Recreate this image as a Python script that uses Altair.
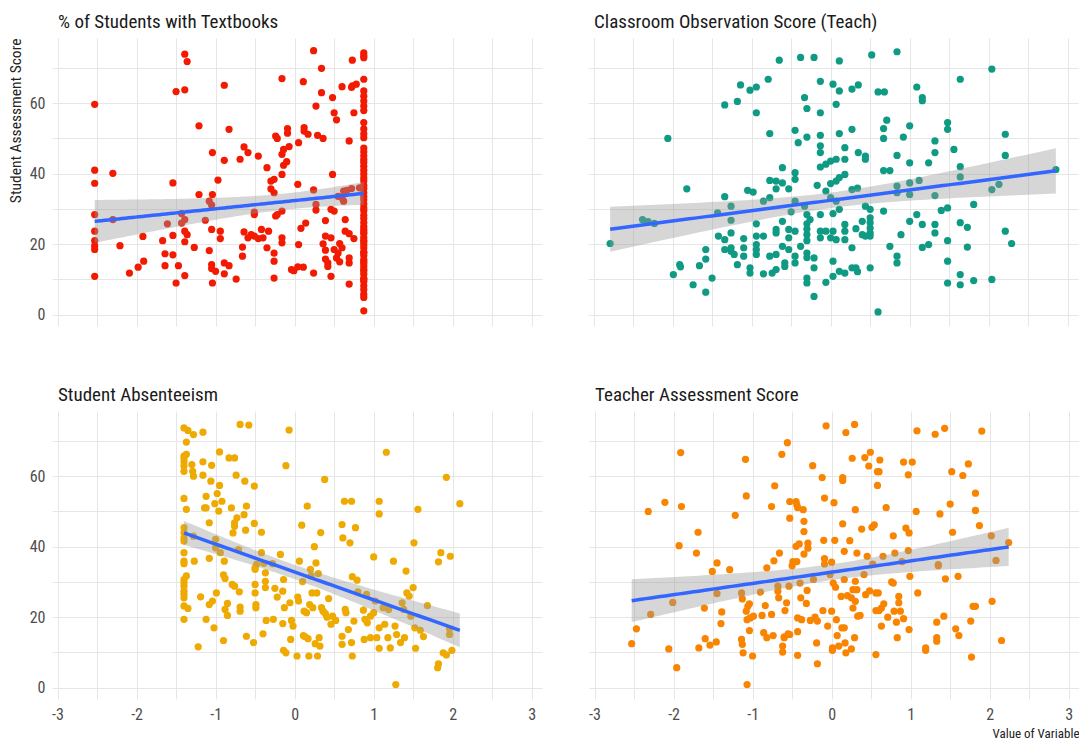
import altair as alt
import numpy as np
import pandas as pd

FONT = "Roboto Condensed, Liberation Sans Narrow, DejaVu Sans Condensed, Roboto, sans-serif"

# ---- data: (x value, [student assessment scores]) ----
textbook_points = [
    (-2.53, [59.7, 41, 37.3, 28.4, 23.7, 21, 19.5, 18.5, 10.9]),
    (-2.30, [40.1, 27]), (-2.21, [19.6]), (-2.09, [11.8]), (-1.98, [13.5]),
    (-1.92, [22.2]), (-1.91, [15.2]), (-1.67, [21]), (-1.64, [17.3, 13.9]),
    (-1.61, [25.8]), (-1.54, [37.4, 22.5, 17]), (-1.50, [63.3, 9]), (-1.47, [13.9]),
    (-1.43, [28.7, 26]), (-1.39, [73.9, 63.8, 27, 23.7, 20.7, 11.1]), (-1.36, [71.8, 22.7]),
    (-1.27, [19.1]), (-1.21, [53.6, 34.1]), (-1.13, [26.8]), (-1.08, [32.2, 18.2]),
    (-1.05, [31.1, 24.2, 14.2, 13.1]), (-1.04, [46, 34.1, 9]), (-1.00, [12.3]),
    (-0.97, [38.2]), (-0.94, [23.7, 21.6]), (-0.89, [65.1, 43.8, 14.7, 11.6]),
    (-0.83, [52.6, 13.9]), (-0.74, [10.1]), (-0.69, [44.1]), (-0.66, [19.2, 16.6]),
    (-0.64, [47.6, 23.5]), (-0.59, [46, 21.8]), (-0.55, [22.7]), (-0.51, [29.1, 28.4, 22.3]),
    (-0.46, [45, 21.6]), (-0.42, [24.2]), (-0.40, [21.8]), (-0.35, [41.7, 19]),
    (-0.33, [23.7]), (-0.30, [37.9, 35.7]), (-0.26, [38.4, 34.6, 17.5, 15.2, 10.4]),
    (-0.24, [50.7, 28]), (-0.22, [50, 28.4]), (-0.16, [67, 45.5, 39.8, 29.4, 21.8, 20.4]),
    (-0.14, [46.9, 42.4]), (-0.10, [43.4]), (-0.09, [52.8, 51.5]), (-0.07, [47.7]),
    (-0.04, [12.8]), (-0.01, [12.5]), (0.04, [37, 13.6]), (0.05, [48.8, 19.9]),
    (0.08, [24.5]), (0.11, [66.1, 13.5]), (0.12, [53.1, 52.1]), (0.14, [26]),
    (0.17, [51.2]), (0.24, [74.9, 35.4, 11.8]), (0.27, [59.2, 31.3, 29.7]), (0.29, [50.9]),
    (0.34, [69.9, 63]), (0.36, [50, 20.1]), (0.39, [26.7, 22.3, 18.3, 15.8]),
    (0.42, [14.7, 13.7]), (0.46, [29.9, 21.8, 10.9]), (0.48, [61.6, 39.8]),
    (0.50, [57.3, 29.4, 18.5]), (0.53, [55.3, 16.1]), (0.55, [33.6, 17.5]), (0.57, [20.2, 15]),
    (0.60, [64.7, 33.2, 19]), (0.62, [35.1, 32.2]), (0.64, [27, 23.7]), (0.66, [35.3]),
    (0.69, [49.3, 23, 16.1, 14.7, 8.7]), (0.72, [64.5, 35.8]), (0.73, [72.2, 64.9]),
    (0.75, [57.3, 21.6]), (0.78, [65.4]), (0.82, [36]),
    (0.875, [74.3, 73.5, 72.9, 66.8, 63.5, 62.0, 60.6, 59.2, 57.9, 54.5, 52.7, 51.3, 50.2,
             47.3, 46.2, 45.1, 44.0, 43.2, 42.1, 41.0, 39.9, 38.8, 37.9, 36.7, 35.8, 34.6,
             33.5, 32.6, 31.4, 30.3, 29.5, 28.2, 27.3, 26.1, 25.0, 24.2, 23.5, 23.0, 21.9,
             21.1, 20.6, 19.8, 18.9, 17.7, 17.6, 16.8, 15.6, 15.1, 14.5, 13.7, 12.8, 12.4,
             11.5, 10.3, 10.0, 9.4, 8.2, 7.1, 5.8, 4.9, 1.1]),
]

observation_points = [
    (-2.79, [20.2]), (-2.38, [27]), (-2.31, [26.4]), (-2.23, [25.9]), (-2.06, [50]),
    (-1.99, [11.4]), (-1.91, [14.2]), (-1.90, [13.6]), (-1.82, [35.7]), (-1.74, [8.5]),
    (-1.66, [13.9]), (-1.58, [18.5, 15.8, 6.4]), (-1.50, [10.4]), (-1.43, [28.9]),
    (-1.42, [22.3]), (-1.34, [59.5, 33.5, 21.3, 18.5]), (-1.26, [30.8, 26.8, 23.2, 19, 18]),
    (-1.22, [17.1]), (-1.18, [60.5, 14.2]), (-1.14, [65.2]), (-1.10, [21.6, 19, 16.6]),
    (-1.05, [35.3]), (-1.02, [63.7, 13.3, 11.8]), (-0.98, [34.8]),
    (-0.94, [64.6, 57.3, 25.8, 22.3, 19.9, 18.5, 17.1]), (-0.85, [32.2, 22.3, 11.6]),
    (-0.79, [66.8]), (-0.77, [51.4, 38.1, 33.2, 16.6]), (-0.74, [11.8]),
    (-0.69, [37.9, 35.7, 24.2, 23.2, 17.1, 12.8]), (-0.65, [72.2]),
    (-0.61, [41.7, 37.4, 26.5, 19.4]), (-0.58, [14.7, 13.7]), (-0.53, [35.7, 24.2, 21.8, 18.5]),
    (-0.50, [29.2]), (-0.45, [52.3, 40.3, 38.4, 32.2, 23.7, 16.6, 14.7]), (-0.41, [48.8]),
    (-0.38, [73, 19.4]), (-0.33, [61.6, 30.8]),
    (-0.30, [58.5, 50.4, 28.4, 25.8, 24.3, 22.7, 21, 17.5, 16.2, 10.4, 9]), (-0.26, [27]),
    (-0.21, [73, 16.1, 13.3, 5.2]), (-0.17, [36.7]),
    (-0.13, [66.2, 57.3, 50.9, 47.9, 46, 41.9, 28.4, 23.7, 21.8]), (-0.06, [42.7, 35.1, 23.7, 9.2]),
    (0.00, [43.6, 37.2, 33.2, 21.8]), (0.03, [65.4, 28.7, 23.7, 15.2, 10.9]),
    (0.07, [59.7, 44.1, 37.9, 32.2, 21.3]), (0.11, [72, 63.5, 51.4, 38.9, 29.9, 12.3]),
    (0.18, [47.4, 44.1, 39.8, 25.6, 23.7, 21.3, 11.8]), (0.27, [64, 52.6, 35.5, 19, 13.3]),
    (0.32, [24.4, 13.3]), (0.34, [35.9, 12.2]), (0.35, [65.2, 46]), (0.40, [26.5, 22.7]),
    (0.44, [45, 44.1, 30.8, 22.3]), (0.50, [29.9, 27.5, 26.1, 24.6, 23.2, 22.3, 13.3]),
    (0.52, [73.7]), (0.60, [63.2, 0.8]), (0.67, [52.8, 50, 40.9, 29.4]), (0.68, [63.2]),
    (0.71, [55.2]), (0.75, [40.9, 19.4]), (0.84, [74.6, 45.2, 36.5, 34.6, 16.6, 14.7]),
    (0.89, [22.7]), (0.92, [50.4]), (1.00, [53.6, 43.1, 37.4, 34.1, 26.5]), (1.09, [64.6, 28.4]),
    (1.12, [38.1]), (1.16, [61.6, 60.7, 25.6, 19.1]), (1.24, [43.1, 19.9]),
    (1.32, [49.3, 46, 33.8, 25.6, 23.2]), (1.40, [29.6]), (1.48, [54.5, 52.6, 30.3, 21, 15.2, 9]),
    (1.56, [46.9]), (1.64, [66.8, 42, 39.1, 26.1, 11.4, 8.5]), (1.73, [24.8, 19.2]),
    (1.81, [31.3, 9.7]), (2.04, [69.7, 35.5, 10]), (2.13, [37]), (2.21, [51.2, 45.2, 23.7]),
    (2.29, [20.2]), (2.85, [41.2]),
]

absenteeism_points = [
    (-1.40, [73.7, 65.7, 65, 64.1, 62.9, 61.4, 53.7, 45.4, 44, 42.5, 41.6, 38.3, 35.9, 35.2,
             30.7, 29.8, 28.8, 27.4, 26.5, 25.5, 23.2, 19.4]),
    (-1.37, [69.7, 66.2, 50.6, 31.7]), (-1.35, [73, 22.5]), (-1.30, [63.3]), (-1.29, [61.4]),
    (-1.28, [71.8, 60, 43]), (-1.27, [35.9]), (-1.22, [11.6]), (-1.19, [25.8]),
    (-1.16, [72.5, 64.1, 60.3]), (-1.14, [51]), (-1.12, [51, 54.3, 19.4]),
    (-1.08, [36.7, 46.8, 23.6]), (-1.06, [58.6]), (-1.05, [63.1]), (-1.04, [24.6]),
    (-1.02, [17]), (-1.01, [52.2]), (-1.00, [42.1, 39.7]), (-0.99, [26.9]), (-0.98, [55.1]),
    (-0.96, [50.1]), (-0.95, [57.4, 66.9]), (-0.94, [38.3]), (-0.92, [52.9]),
    (-0.90, [32, 13.4]), (-0.89, [35.9]), (-0.88, [31, 22.2]), (-0.85, [23.9, 20.5]),
    (-0.83, [65.2]), (-0.80, [51]), (-0.79, [29.3]), (-0.78, [43.9]),
    (-0.76, [65.2, 46.8, 45.8, 28.8]), (-0.74, [60.3]), (-0.73, [48.2]), (-0.71, [39.2]),
    (-0.70, [27.2]), (-0.69, [74.7, 22.9, 21.7]), (-0.64, [49.1]), (-0.63, [58.6]),
    (-0.62, [44.7]), (-0.61, [51.5, 14.6]), (-0.58, [74.5]), (-0.52, [12.8]),
    (-0.51, [57.2, 46.6]), (-0.50, [34, 33.6, 29.3, 26.9]), (-0.49, [23.6, 22.7]), (-0.48, [35]),
    (-0.42, [44.1, 38.3]), (-0.40, [15.3]), (-0.39, [35.3]), (-0.37, [32.6, 30.2, 28.4]),
    (-0.36, [19.1]), (-0.28, [35.2]), (-0.27, [19.4]), (-0.25, [28.2]), (-0.22, [25.7]),
    (-0.18, [37.8]), (-0.15, [27.4, 18.2]), (-0.14, [30.7, 10.6]), (-0.13, [22.7]),
    (-0.11, [63, 9.9]), (-0.07, [73.1]), (-0.06, [24.1]), (-0.05, [13.7]), (-0.04, [19.1]),
    (-0.02, [17.5]), (0.03, [9]), (0.04, [25.7]), (0.05, [24.6]), (0.06, [35.9]), (0.09, [46.1]),
    (0.10, [30.1]), (0.11, [14.8]), (0.12, [21.7]), (0.13, [14.5]), (0.15, [21.3]), (0.16, [51.5]),
    (0.17, [13.9]), (0.18, [9]), (0.19, [23.6]), (0.20, [33.6]), (0.21, [31.7]), (0.22, [26.9]),
    (0.23, [22.7]), (0.25, [40]), (0.26, [12.5]), (0.27, [35.4]), (0.28, [26.9]), (0.29, [9]),
    (0.30, [32.4]), (0.31, [14.2]), (0.32, [11.8]), (0.33, [44]), (0.34, [22.7]), (0.36, [21.7]),
    (0.38, [59.1]), (0.39, [21]), (0.41, [20]), (0.43, [25.3]), (0.46, [18]), (0.48, [20.3]),
    (0.52, [19.1]), (0.60, [46.3, 14.6, 12.3]), (0.61, [42.5]), (0.63, [52.9]), (0.64, [22.2]),
    (0.65, [21.3]), (0.68, [16.5]), (0.70, [41.1]), (0.72, [52.9, 12.8]), (0.73, [31.5, 9]),
    (0.75, [18.9]), (0.77, [45.4]), (0.79, [30.5]), (0.80, [27.2]), (0.87, [22]), (0.88, [13.7]),
    (0.89, [19.4]), (0.91, [26.5]), (0.92, [18.4]), (0.96, [20.3, 14.2]), (1.00, [37.1, 21.3]),
    (1.02, [24.6]), (1.04, [14.2]), (1.07, [52.9, 49.3, 17, 11.2]), (1.12, [22.7]), (1.14, [18]),
    (1.16, [66.8]), (1.18, [14.2]), (1.19, [22.2]), (1.21, [11.3]), (1.25, [35.9]), (1.27, [17.5]),
    (1.28, [0.9]), (1.29, [15.1]), (1.34, [12.8]), (1.36, [24.1]), (1.38, [22.2]), (1.39, [14.2]),
    (1.41, [33.1]), (1.42, [26.9]), (1.45, [26]), (1.47, [20.3]), (1.50, [28.4]), (1.51, [41.1]),
    (1.52, [17]), (1.53, [11.2]), (1.56, [50.6]), (1.59, [16.3]), (1.63, [14.5]), (1.68, [23.3]),
    (1.81, [5.7]), (1.82, [35.7, 6.8]), (1.85, [38.3]), (1.88, [9.9]), (1.92, [59.7, 9.3]),
    (1.96, [16.7, 15.1]), (1.97, [37.3]), (1.99, [10.6]), (2.09, [52.2]),
]

teacher_points = [
    (-2.53, [12.5]), (-2.47, [16.7]), (-2.32, [50]), (-2.29, [20.8]), (-2.11, [52.6]),
    (-2.06, [11]), (-2.01, [24.2]), (-1.96, [5.7]), (-1.93, [40.3]), (-1.91, [66.7]),
    (-1.90, [51.4]), (-1.71, [38.2]), (-1.69, [44.1]), (-1.68, [11.3]), (-1.61, [22.6]),
    (-1.60, [13.9]), (-1.54, [12.1]), (-1.51, [33]), (-1.46, [13]), (-1.45, [35.4, 26.7]),
    (-1.40, [18.2]), (-1.39, [21.5]), (-1.29, [33.5]), (-1.22, [48.9]), (-1.14, [26.9, 13.7]),
    (-1.13, [25.2, 12.3]), (-1.12, [9.9]), (-1.09, [64.8]), (-1.08, [54.4, 21.7]),
    (-1.07, [19.3, 0.9]), (-1.06, [23.1]), (-1.04, [23.8, 16.2]), (-1.03, [19.8]), (-1.00, [9]),
    (-0.99, [20.3]), (-0.90, [27.1]), (-0.88, [20.5]), (-0.86, [15.6]), (-0.84, [23.3]),
    (-0.82, [34, 14.2]), (-0.76, [51.4, 20.8]), (-0.74, [14.8]), (-0.73, [36]), (-0.72, [57.3]),
    (-0.68, [28.8, 27.4]), (-0.67, [25.5]), (-0.66, [38.2]), (-0.63, [66.2]), (-0.62, [11.8, 10.1]),
    (-0.60, [14.2, 14.4]), (-0.59, [21.9]), (-0.57, [24.1]), (-0.56, [69.5]), (-0.55, [15.3]),
    (-0.54, [28.8]), (-0.53, [52.8, 48.1, 15.1]), (-0.50, [34.6]), (-0.49, [35.8]),
    (-0.45, [52.8, 40.1]), (-0.44, [51.9, 35.8]), (-0.43, [51.1, 19.8, 15.9, 9.2]), (-0.41, [40.8]),
    (-0.40, [29.7]), (-0.39, [25.5]), (-0.38, [19.3]), (-0.36, [50.5]), (-0.35, [47.2, 44.3, 37.9]),
    (-0.32, [23.9]), (-0.31, [27.6]), (-0.30, [41, 39.6]), (-0.27, [19.1]), (-0.24, [63]),
    (-0.23, [30.7]), (-0.21, [20]), (-0.19, [12.7]), (-0.18, [18.9, 6.8]), (-0.12, [59.6]),
    (-0.11, [21.9]), (-0.10, [41.8]), (-0.09, [53.8, 36.6, 35.1]), (-0.07, [74.3]), (-0.05, [17.5]),
    (-0.02, [32.1]), (0.00, [35.6, 21.7]), (0.01, [10.6, 11.3]), (0.02, [29.7]), (0.03, [52.5]),
    (0.04, [41.8]), (0.05, [28.5]), (0.06, [19.3]), (0.07, [14.8]), (0.09, [11.8]), (0.12, [25.9]),
    (0.13, [17]), (0.14, [59.6, 58.8, 46.5]), (0.16, [38.7, 30.7, 17]), (0.17, [12.7]),
    (0.18, [72.4, 9.9]), (0.20, [26.1]), (0.23, [41.7]), (0.25, [25.5, 11]), (0.26, [65.1]),
    (0.27, [27.8, 22.6]), (0.29, [74.7, 14.2]), (0.30, [50.5, 30.2, 24.5]), (0.32, [38.2, 27.8]),
    (0.33, [20.3]), (0.36, [20.5]), (0.38, [45]), (0.41, [32.1]), (0.42, [65.3]), (0.43, [26.4]),
    (0.45, [37.3]), (0.47, [62.9]), (0.48, [27.5]), (0.49, [66.8]), (0.51, [45.5]), (0.52, [35.1]),
    (0.54, [46.2]), (0.56, [26.9, 21.9, 9.4]), (0.58, [61.3, 57.4]), (0.59, [26.9]),
    (0.60, [61.3, 21.9]), (0.61, [64.6]), (0.63, [22.6, 17.5]), (0.65, [37.3]), (0.66, [23.8]),
    (0.69, [51.1]), (0.71, [20]), (0.76, [30]), (0.78, [43.1, 29.7]), (0.79, [21.7]), (0.80, [38.2]),
    (0.82, [18.6]), (0.83, [14.2]), (0.85, [25.9, 24.1]), (0.87, [21.7]), (0.89, [35.8]),
    (0.91, [64, 19.6]), (0.94, [45.3]), (0.97, [60.4, 38.9]), (0.98, [43.9, 16.5]), (0.99, [31.6]),
    (1.02, [64]), (1.07, [50]), (1.08, [72.9]), (1.09, [26.9]), (1.19, [11.3, 10.6]), (1.31, [71.9]),
    (1.33, [18.6, 14.2, 13.2]), (1.35, [34.9, 34.6]), (1.37, [49.3]), (1.42, [20.3]), (1.43, [73.6]),
    (1.44, [30.9]), (1.50, [52.1]), (1.52, [61.3]), (1.53, [44.1]), (1.57, [16.7]), (1.60, [31.6]),
    (1.61, [14.8]), (1.66, [60.2]), (1.73, [63.5]), (1.76, [18.9]), (1.77, [8.7]), (1.79, [23.1]),
    (1.82, [55.2, 50.3, 23.1]), (1.87, [46]), (1.90, [72.8]), (2.02, [43.1]), (2.03, [24.5]),
    (2.08, [36.1]), (2.15, [13.4]), (2.24, [41.2]),
]

panel_titles = ["% of Students with Textbooks", "Classroom Observation Score (Teach)",
                "Student Absenteeism", "Teacher Assessment Score"]
panel_colors = ["#F21A00", "#0E9A83", "#EEAA00", "#F98400"]
x_ticks = [-3, -2.5, -2, -1.5, -1, -0.5, 0, 0.5, 1, 1.5, 2, 2.5, 3]
y_ticks = [0, 10, 20, 30, 40, 50, 60, 70]
X_DOMAIN = [-3.07, 3.13]
Y_DOMAIN = [-3.2, 78.5]

W, H = 490, 288


def to_frame(groups):
    xs, ys = [], []
    for xv, yl in groups:
        for yv in yl:
            xs.append(xv)
            ys.append(yv)
    return pd.DataFrame({"x": xs, "y": ys})


def smooth(df):
    x = df["x"].to_numpy(float)
    y = df["y"].to_numpy(float)
    n = len(x)
    xb, yb = x.mean(), y.mean()
    sxx = ((x - xb) ** 2).sum()
    b = ((x - xb) * (y - yb)).sum() / sxx
    a = yb - b * xb
    s = np.sqrt(((y - (a + b * x)) ** 2).sum() / (n - 2))
    g = np.linspace(x.min(), x.max(), 80)
    f = a + b * g
    se = s * np.sqrt(1.0 / n + (g - xb) ** 2 / sxx)
    t = 1.969
    return pd.DataFrame({"x": g, "fit": f, "lo": f - t * se, "hi": f + t * se})


def panel(groups, color, title, show_x, show_y, y_title=None, x_title=None):
    df = to_frame(groups)
    sm = smooth(df)
    xax = dict(values=x_ticks, grid=True, domain=False, ticks=False, labels=show_x,
               labelExpr="datum.value % 1 == 0 ? toString(datum.value) : ''",
               title=x_title, minExtent=0)
    if x_title:
        xax.update(titleAnchor="end", titleFontSize=13, titleFontWeight="normal",
                   titleColor="#222222", titlePadding=5, titleFont=FONT)
    yax = dict(values=y_ticks, grid=True, domain=False, ticks=False, labels=show_y,
               labelExpr="datum.value % 20 == 0 ? datum.label : ''", title=y_title, minExtent=0)
    if y_title:
        yax.update(titleAnchor="end", titleFontSize=15.5, titleFontWeight="normal",
                   titleColor="#222222", titlePadding=6, titleFont=FONT)
    xs = alt.Scale(domain=X_DOMAIN, nice=False, zero=False)
    ys = alt.Scale(domain=Y_DOMAIN, nice=False, zero=False)
    pts = alt.Chart(df).mark_circle(size=52, opacity=1, color=color).encode(
        x=alt.X("x:Q", scale=xs, axis=alt.Axis(**xax)),
        y=alt.Y("y:Q", scale=ys, axis=alt.Axis(**yax)),
    )
    band = alt.Chart(sm).mark_area(color="#999999", opacity=0.4).encode(
        x=alt.X("x:Q", scale=xs, axis=alt.Axis(**xax)),
        y=alt.Y("lo:Q", scale=ys, axis=alt.Axis(**yax)),
        y2="hi:Q",
    )
    line = alt.Chart(sm).mark_line(color="#3366FF", strokeWidth=3.5).encode(
        x=alt.X("x:Q", scale=xs, axis=alt.Axis(**xax)),
        y=alt.Y("fit:Q", scale=ys, axis=alt.Axis(**yax)),
    )
    return alt.layer(pts, band, line).properties(
        width=W, height=H,
        title=alt.TitleParams(text=title, anchor="start", frame="group", font=FONT,
                              fontSize=19, fontWeight="normal", color="#1a1a1a",
                              offset=6, dx=6),
    )


p1 = panel(textbook_points, panel_colors[0], panel_titles[0], False, True,
           y_title="Student Assessment Score")
p2 = panel(observation_points, panel_colors[1], panel_titles[1], False, False)
p3 = panel(absenteeism_points, panel_colors[2], panel_titles[2], True, True)
p4 = panel(teacher_points, panel_colors[3], panel_titles[3], True, False,
           x_title="Value of Variable")

chart = alt.vconcat(
    alt.hconcat(p1, p2, spacing=46),
    alt.hconcat(p3, p4, spacing=46),
    spacing=60,
).properties(
    padding={"left": 0, "top": 5, "right": 0, "bottom": 0},
    background="white",
).configure_view(stroke=None).configure_axis(
    gridColor="#E6E6E6", gridWidth=1, labelFont=FONT, labelFontSize=16,
    labelColor="#4D4D4D", labelPadding=7,
)

chart.save("out.html", embed_options={"renderer": "svg", "actions": False})
